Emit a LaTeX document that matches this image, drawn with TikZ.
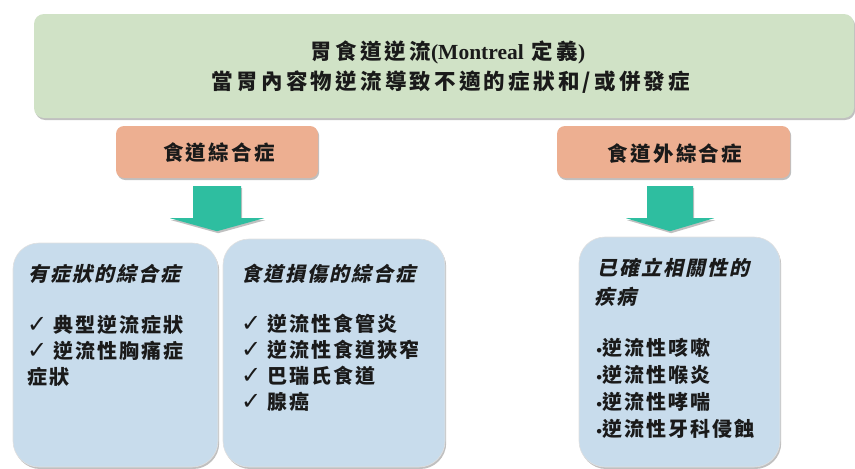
\documentclass[tikz,border=0pt]{standalone}
\usepackage{fontspec}
\setmainfont{Noto Sans CJK TC}
\newfontfamily\cjktop{Noto Sans CJK TC}[LetterSpace=15]
\newfontfamily\cjkmid{Noto Sans CJK TC}[LetterSpace=11]
\newfontfamily\cjkbody{Noto Sans CJK TC}[LetterSpace=10]
\newfontfamily\cjkit{Noto Sans CJK TC}[LetterSpace=10,FakeSlant=0.22]
\newfontfamily\latinserif{Liberation Serif}
\newfontfamily\symfont{DejaVu Sans}
\usetikzlibrary{shadows}
\definecolor{gbox}{HTML}{D0E2C6}
\definecolor{obox}{HTML}{EDAF91}
\definecolor{tealA}{HTML}{2EBEA0}
\definecolor{bbox}{HTML}{C8DCEC}
\definecolor{ink}{HTML}{1A1A1A}
\tikzset{
  shadowed/.style={drop shadow={shadow xshift=1.2pt,shadow yshift=-2pt,opacity=0.35,fill=black!70}},
  greenbox/.style={fill=gbox,rounded corners=10pt,shadowed,inner sep=0pt},
  orangebox/.style={fill=obox,rounded corners=8pt,shadowed,inner sep=0pt},
  bluebox/.style={fill=bbox,rounded corners=26pt,shadowed,inner sep=0pt,draw=black!12,line width=0.6pt},
  arrowfill/.style={fill=tealA,shadowed},
  toptext/.style={inner sep=0pt,text=ink,font=\fontsize{21.5}{25}\cjktop\bfseries},
  midtext/.style={inner sep=0pt,text=ink,font=\fontsize{20.5}{24}\cjkmid\bfseries},
  headtext/.style={inner sep=0pt,anchor=west,text=ink,font=\fontsize{20}{23}\cjkit\bfseries},
  itemtext/.style={inner sep=0pt,anchor=west,text=ink,font=\fontsize{20}{23}\cjkbody\bfseries},
}
\newcommand{\chk}{\makebox[26pt][l]{\symfont\fontsize{24}{24}\selectfont ✓}}
\newcommand{\bul}{\makebox[7pt][l]{\symfont\fontsize{13}{16}\selectfont •}}
\begin{document}
\begin{tikzpicture}[x=1pt,y=-1pt]
\useasboundingbox (0,0) rectangle (855,469);
\fill[white] (0,0) rectangle (855,469);

% top green box
\node[greenbox,minimum width=820pt,minimum height=104pt] (top) at (444,66) {};
\node[toptext] (t1) at (448,52) {胃食道逆流{\latinserif\bfseries(Montreal} 定義{\latinserif\bfseries)}};
\node[toptext] (t2) at (451,82) {當胃內容物逆流導致不適的症狀和/或併發症};

% orange boxes
\node[orangebox,minimum width=202pt,minimum height=52pt] (o1) at (217,152) {};
\node[midtext] (o1t) at (219,153) {食道綜合症};
\node[orangebox,minimum width=233pt,minimum height=52pt] (o2) at (673.5,152) {};
\node[midtext] (o2t) at (675,154) {食道外綜合症};

% teal arrows
\coordinate (a1) at (o1.south);
\coordinate (a2) at ([xshift=-3.5pt]o2.south);
\begin{scope}[shift={(a1)}]
  \fill[arrowfill] (-24,8) -- (24,8) -- (24,40) -- (47,40) -- (0,53) -- (-47,40) -- (-24,40) -- cycle;
\end{scope}
\begin{scope}[shift={(a2)}]
  \fill[arrowfill] (-23,8) -- (23,8) -- (23,40) -- (44,40) -- (0,53) -- (-44,40) -- (-23,40) -- cycle;
\end{scope}

% blue boxes
\node[bluebox,minimum width=205pt,minimum height=224pt] (b1) at (115.5,355) {};
\node[bluebox,minimum width=222pt,minimum height=228pt] (b2) at (334,353) {};
\node[bluebox,minimum width=201pt,minimum height=230pt] (b3) at (679.5,352) {};

% box 1 text
\node[headtext] (h1) at (28,274) {有症狀的綜合症};
\node[itemtext] (i1a) at (27,325) {\chk 典型逆流症狀};
\node[itemtext] (i1b) at (27,351) {\chk 逆流性胸痛症};
\node[itemtext] (i1c) at (27,377) {症狀};

% box 2 text
\node[headtext] (h2) at (241,274) {食道損傷的綜合症};
\node[itemtext] (i2a) at (241,324) {\chk 逆流性食管炎};
\node[itemtext] (i2b) at (241,350) {\chk 逆流性食道狹窄};
\node[itemtext] (i2c) at (241,376) {\chk 巴瑞氏食道};
\node[itemtext] (i2d) at (241,402) {\chk 腺癌};

% box 3 text
\node[headtext] (h3a) at (597,268) {已確立相關性的};
\node[headtext] (h3b) at (594,297) {疾病};
\node[itemtext] (i3a) at (595,348) {\bul 逆流性咳嗽};
\node[itemtext] (i3b) at (595,375) {\bul 逆流性喉炎};
\node[itemtext] (i3c) at (595,402) {\bul 逆流性哮喘};
\node[itemtext] (i3d) at (595,429) {\bul 逆流性牙科侵蝕};
\end{tikzpicture}
\end{document}
